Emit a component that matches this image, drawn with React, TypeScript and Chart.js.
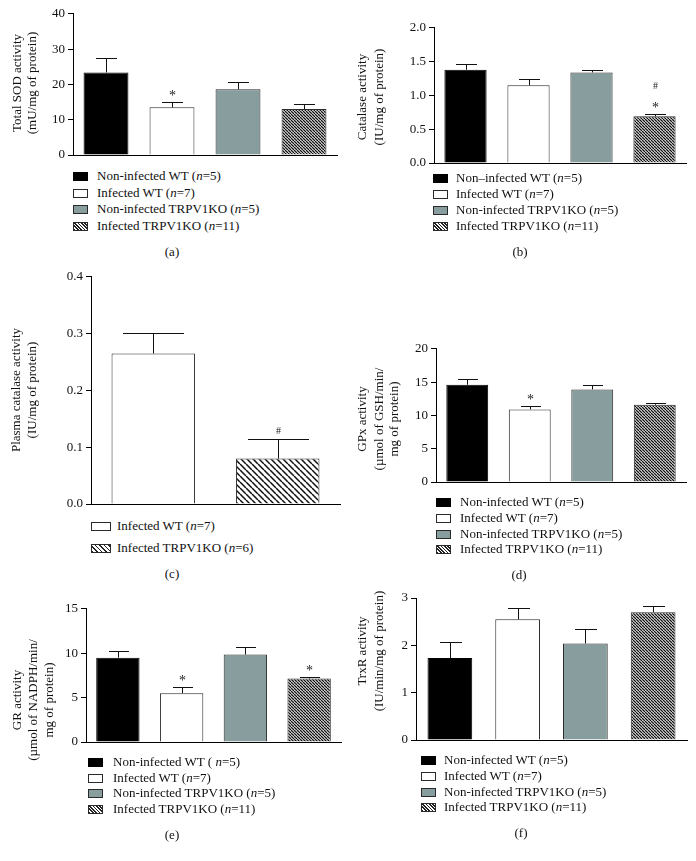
import React, { useEffect, useRef } from "react";
import { Chart, registerables } from "chart.js";
Chart.register(...registerables);

// ---------------- DATA ----------------
const groups4 = ["Non-infected WT", "Infected WT", "Non-infected TRPV1KO", "Infected TRPV1KO"];
const groupsC = ["Infected WT", "Infected TRPV1KO"];
const fills4 = ["black", "white", "gray", "hatch"];
const fillsC = ["white", "hatch"];

const sodMean = [23.4, 13.5, 18.6, 13.0];
const sodSem = [4.2, 1.4, 2.2, 1.4];
const sodSig = [[], ["*"], [], []];

const catMean = [1.38, 1.15, 1.34, 0.69];
const catSem = [0.09, 0.10, 0.03, 0.03];
const catSig = [[], [], [], ["*", "#"]];

const plasmaMean = [0.265, 0.080];
const plasmaSem = [0.036, 0.034];
const plasmaSig = [[], ["#"]];

const gpxMean = [14.6, 10.9, 13.9, 11.6];
const gpxSem = [0.8, 0.5, 0.6, 0.25];
const gpxSig = [[], ["*"], [], []];

const grMean = [9.5, 5.5, 9.85, 7.15];
const grSem = [0.7, 0.7, 0.9, 0.15];
const grSig = [[], ["*"], [], ["*"]];

const trxrMean = [1.73, 2.55, 2.04, 2.70];
const trxrSem = [0.34, 0.24, 0.30, 0.13];
const trxrSig = [[], [], [], []];

const legendStd = ["Non-infected WT (n=5)", "Infected WT (n=7)", "Non-infected TRPV1KO (n=5)", "Infected TRPV1KO (n=11)"];
const legendB = ["Non\u2013infected WT (n=5)", "Infected WT (n=7)", "Non-infected TRPV1KO (n=5)", "Infected TRPV1KO (n=11)"];
const legendC = ["Infected WT (n=7)", "Infected TRPV1KO (n=6)"];
const legendE = ["Non-infected WT ( n=5)", "Infected WT (n=7)", "Non-infected TRPV1KO (n=5)", "Infected TRPV1KO (n=11)"];

const titleA = ["Total SOD activity", "(mU/mg of protein)"];
const titleB = ["Catalase activity", "(IU/mg of protein)"];
const titleC = ["Plasma catalase activity", "(IU/mg of protein)"];
const titleD = ["GPx activity", "(\u00b5mol of GSH/min/", "mg of protein)"];
const titleE = ["GR activity", "(\u00b5mol of NADPH/min/", "mg of protein)"];
const titleF = ["TrxR activity", "(IU/min/mg of protein)"];

// ---------------- STYLE ----------------
const SERIF = '"Liberation Serif", "Times New Roman", serif';
const GRAY = "#889d9d";
const EDGE = "#2a2a2a";

type PanelCfg = {
  labels: string[]; mean: number[]; sem: number[]; sig: string[][]; fills: string[];
  legend: string[]; title: string[]; yMax: number; yStep: number; decimals: number;
  left: number; axisX: number; top: number; y0: number; right: number;
  titleX: number[]; titleY: number; barPct: number; cap: number; hatchP: number; hatchW: number;
  legX: number; legTextX: number; legRows: number[]; boxW: number; boxH: number; legHatch: number;
  tag: string; tagX: number; tagY: number;
};

const panels: PanelCfg[] = [
  { labels: groups4, mean: sodMean, sem: sodSem, sig: sodSig, fills: fills4, legend: legendStd, title: titleA,
    yMax: 40, yStep: 10, decimals: 0, left: 0, axisX: 73, top: 13, y0: 155, right: 337,
    titleX: [18, 33], titleY: 83, barPct: 0.68, cap: 21, hatchP: 3, hatchW: 1.3,
    legX: 73, legTextX: 97, legRows: [176, 193, 209, 226], boxW: 15, boxH: 9, legHatch: 2.4,
    tag: "(a)", tagX: 172, tagY: 252 },
  { labels: groups4, mean: catMean, sem: catSem, sig: catSig, fills: fills4, legend: legendB, title: titleB,
    yMax: 2, yStep: 0.5, decimals: 1, left: 348, axisX: 434, top: 27, y0: 163, right: 686,
    titleX: [363, 380], titleY: 97, barPct: 0.67, cap: 21, hatchP: 3, hatchW: 1.3,
    legX: 433, legTextX: 456, legRows: [178, 194, 210, 226], boxW: 15, boxH: 9, legHatch: 2.4,
    tag: "(b)", tagX: 520, tagY: 252 },
  { labels: groupsC, mean: plasmaMean, sem: plasmaSem, sig: plasmaSig, fills: fillsC, legend: legendC, title: titleC,
    yMax: 0.4, yStep: 0.1, decimals: 1, left: 0, axisX: 91, top: 276, y0: 504, right: 340,
    titleX: [17, 33], titleY: 390, barPct: 0.67, cap: 61, hatchP: 6, hatchW: 1.5,
    legX: 91, legTextX: 117, legRows: [526, 548], boxW: 20, boxH: 9, legHatch: 3.2,
    tag: "(c)", tagX: 172, tagY: 574 },
  { labels: groups4, mean: gpxMean, sem: gpxSem, sig: gpxSig, fills: fills4, legend: legendStd, title: titleD,
    yMax: 20, yStep: 5, decimals: 0, left: 348, axisX: 436, top: 348, y0: 482, right: 686,
    titleX: [363, 380, 395], titleY: 419, barPct: 0.67, cap: 20, hatchP: 3, hatchW: 1.3,
    legX: 436, legTextX: 460, legRows: [502, 518, 534, 549], boxW: 15, boxH: 9, legHatch: 2.4,
    tag: "(d)", tagX: 519, tagY: 575 },
  { labels: groups4, mean: grMean, sem: grSem, sig: grSig, fills: fills4, legend: legendE, title: titleE,
    yMax: 15, yStep: 5, decimals: 0, left: 0, axisX: 86, top: 608, y0: 742, right: 341,
    titleX: [18, 34, 50], titleY: 700, barPct: 0.68, cap: 20, hatchP: 3, hatchW: 1.3,
    legX: 88, legTextX: 113, legRows: [762, 778, 793, 809], boxW: 15, boxH: 9, legHatch: 2.4,
    tag: "(e)", tagX: 172, tagY: 835 },
  { labels: groups4, mean: trxrMean, sem: trxrSem, sig: trxrSig, fills: fills4, legend: legendStd, title: titleF,
    yMax: 3, yStep: 1, decimals: 0, left: 348, axisX: 416, top: 598, y0: 740, right: 687,
    titleX: [363, 380], titleY: 651, barPct: 0.66, cap: 22, hatchP: 3, hatchW: 1.3,
    legX: 421, legTextX: 444, legRows: [760, 776, 792, 807], boxW: 15, boxH: 9, legHatch: 2.4,
    tag: "(f)", tagX: 521, tagY: 833 },
];

function makeHatch(p: number, w: number): CanvasPattern | string {
  const c = document.createElement("canvas");
  c.width = p; c.height = p;
  const g = c.getContext("2d");
  if (!g) return "#666";
  g.fillStyle = "#fff";
  g.fillRect(0, 0, p, p);
  g.strokeStyle = "#111";
  g.lineWidth = w;
  g.beginPath();
  for (const k of [-p, 0, p]) {
    g.moveTo(k, 0);
    g.lineTo(k + p, p);
  }
  g.stroke();
  const pat = g.createPattern(c, "repeat");
  return pat || "#666";
}

function makePlugin(p: PanelCfg, cTop: number) {
  return {
    id: "errbars",
    afterDatasetsDraw(chart: any) {
      const ctx = chart.ctx as CanvasRenderingContext2D;
      const meta = chart.getDatasetMeta(0);
      const ys = chart.scales.y;
      ctx.save();
      ctx.strokeStyle = "#111";
      ctx.fillStyle = "#222";
      ctx.lineWidth = 1;
      meta.data.forEach((bar: any, i: number) => {
        const x = Math.round(bar.x) + 0.5;
        const yTop = ys.getPixelForValue(p.mean[i]);
        const yE = Math.round(ys.getPixelForValue(p.mean[i] + p.sem[i])) + 0.5;
        ctx.beginPath();
        ctx.moveTo(x, yTop);
        ctx.lineTo(x, yE);
        ctx.moveTo(Math.round(x - p.cap / 2), yE);
        ctx.lineTo(Math.round(x + p.cap / 2), yE);
        ctx.stroke();
        ctx.textAlign = "center";
        ctx.textBaseline = "alphabetic";
        (p.sig[i] || []).forEach((m, k) => {
          ctx.font = (m === "#" ? "10px " : "14px ") + SERIF;
          const base = yE - 4 - k * 20 + (m === "#" ? -2 : 1);
          ctx.fillText(m, x, base);
        });
      });
      ctx.restore();
    },
    afterDraw(chart: any) {
      const ctx = chart.ctx as CanvasRenderingContext2D;
      ctx.save();
      ctx.fillStyle = "#111";
      ctx.font = "13px " + SERIF;
      ctx.textAlign = "center";
      ctx.textBaseline = "middle";
      p.title.forEach((line, k) => {
        ctx.save();
        ctx.translate(p.titleX[k] - p.left, p.titleY - cTop);
        ctx.rotate(-Math.PI / 2);
        ctx.fillText(line, 0, 0);
        ctx.restore();
      });
      ctx.restore();
    },
  };
}

function Panel({ p }: { p: PanelCfg }) {
  const ref = useRef<HTMLCanvasElement>(null);
  const cTop = Math.min(p.top - 10, p.titleY - 80);
  const cBottom = Math.max(p.y0 + 12, p.titleY + 80);
  const cRight = p.right + 4;
  const W = cRight - p.left;
  const H = cBottom - cTop;
  useEffect(() => {
    const canvas = ref.current;
    if (!canvas) return;
    const hatch = makeHatch(p.hatchP, p.hatchW);
    const colors = p.fills.map((f) => (f === "black" ? "#000" : f === "white" ? "#fff" : f === "gray" ? GRAY : hatch));
    const borders = p.fills.map((f) => (f === "black" ? "#000" : EDGE));
    const chart = new Chart(canvas, {
      type: "bar",
      data: {
        labels: p.labels,
        datasets: [{
          data: p.mean,
          backgroundColor: colors as any,
          borderColor: borders,
          borderWidth: 1,
          barPercentage: p.barPct,
          categoryPercentage: 1,
        }],
      },
      options: {
        responsive: false,
        animation: false,
        devicePixelRatio: 1,
        layout: { padding: { left: 0, top: p.top - cTop, right: cRight - p.right, bottom: cBottom - p.y0 } },
        plugins: { legend: { display: false }, tooltip: { enabled: false } },
        scales: {
          x: {
            offset: true,
            grid: { display: false },
            ticks: { display: false },
            border: { display: true, color: "#000", width: 1 },
            afterFit: (s: any) => { s.height = 0; },
          },
          y: {
            min: 0,
            max: p.yMax,
            ticks: {
              stepSize: p.yStep,
              color: "#111",
              font: { family: SERIF, size: 13 },
              padding: 3,
              callback: (v: any) => Number(v).toFixed(p.decimals),
            },
            grid: { drawOnChartArea: false, drawTicks: true, tickLength: 5, color: "#000" },
            border: { display: true, color: "#000", width: 1 },
            afterFit: (s: any) => { s.width = p.axisX - p.left; },
          },
        },
      } as any,
      plugins: [makePlugin(p, cTop) as any],
    });
    return () => chart.destroy();
  }, []);
  return (
    <canvas
      ref={ref}
      width={W}
      height={H}
      style={{ position: "absolute", left: p.left, top: cTop, width: W, height: H }}
    />
  );
}

function LegendText({ s }: { s: string }) {
  const i = s.lastIndexOf("n=");
  return (
    <>
      {s.slice(0, i)}
      <i>n</i>
      {s.slice(i + 1)}
    </>
  );
}

function boxStyle(f: string, p: PanelCfg): React.CSSProperties {
  const base: React.CSSProperties = {
    position: "absolute",
    width: p.boxW,
    height: p.boxH,
    boxSizing: "border-box",
    border: "1px solid " + EDGE,
  };
  if (f === "black") return { ...base, background: "#000", border: "1px solid #000" };
  if (f === "white") return { ...base, background: "#fff" };
  if (f === "gray") return { ...base, background: GRAY };
  return {
    ...base,
    background: `repeating-linear-gradient(45deg, #222 0px, #222 1.2px, #fff 1.2px, #fff ${p.legHatch}px)`,
  };
}

function Legend({ p }: { p: PanelCfg }) {
  return (
    <>
      {p.legend.map((s, i) => (
        <React.Fragment key={i}>
          <div style={{ ...boxStyle(p.fills[i], p), left: p.legX, top: p.legRows[i] - p.boxH / 2 }} />
          <div
            style={{
              position: "absolute",
              left: p.legTextX,
              top: p.legRows[i] - 8,
              height: 16,
              lineHeight: "16px",
              fontSize: 13,
              fontFamily: SERIF,
              color: "#111",
              whiteSpace: "nowrap",
            }}
          >
            <LegendText s={s} />
          </div>
        </React.Fragment>
      ))}
      <div
        style={{
          position: "absolute",
          left: p.tagX - 30,
          width: 60,
          top: p.tagY - 8,
          lineHeight: "16px",
          textAlign: "center",
          fontSize: 13,
          fontFamily: SERIF,
          color: "#111",
        }}
      >
        {p.tag}
      </div>
    </>
  );
}

export default function App() {
  return (
    <div style={{ position: "absolute", left: 0, top: 0, width: 696, height: 861, background: "#fff", overflow: "hidden" }}>
      {panels.map((p, i) => (
        <React.Fragment key={i}>
          <Panel p={p} />
          <Legend p={p} />
        </React.Fragment>
      ))}
    </div>
  );
}
